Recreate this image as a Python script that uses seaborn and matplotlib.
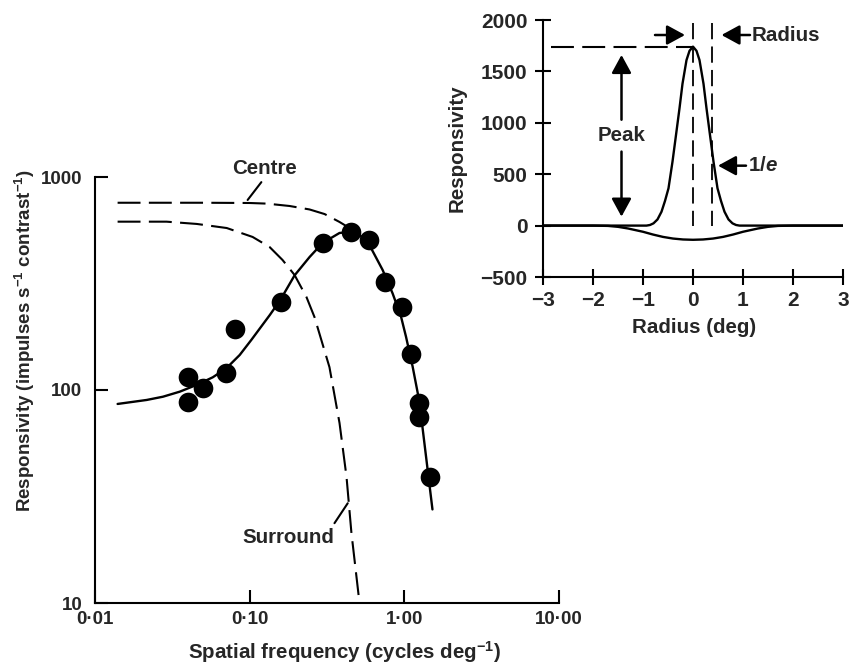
import matplotlib
matplotlib.use("Agg")
import matplotlib.pyplot as plt
import matplotlib.ticker as mticker
import pandas as pd
import seaborn as sns

# ---------------- data ----------------
# measured points: spatial frequency (c/deg) vs responsivity
freq_pts = [0.04, 0.04, 0.05, 0.07, 0.08, 0.16, 0.30, 0.45, 0.59, 0.75, 0.96, 1.11, 1.25, 1.25, 1.47]
resp_pts = [115, 88, 102, 120, 193, 259, 490, 552, 506, 321, 245, 148, 87, 75, 39]

# fitted (DoG) curve
fit_f = [0.014, 0.0216, 0.0275, 0.0353, 0.0453, 0.0577, 0.0707, 0.0862, 0.1026, 0.135, 0.158,
         0.195, 0.244, 0.296, 0.381, 0.442, 0.52, 0.594, 0.724, 0.84, 0.952, 1.025, 1.131,
         1.22, 1.30, 1.38, 1.52]
fit_r = [86, 89.8, 93, 98.2, 105.6, 114.7, 126.5, 146, 172, 225, 265,
         345, 421, 490, 546, 552, 530, 480, 366, 284, 221, 178, 129,
         97, 70, 49, 27.5]

# centre component
cen_f = [0.014, 0.05, 0.10, 0.129, 0.181, 0.244, 0.305, 0.381, 0.442, 0.48]
cen_r = [757, 757, 755, 750, 731, 704, 670, 615, 576, 548]

# surround component
sur_f = [0.014, 0.029, 0.0455, 0.0711, 0.1045, 0.1346, 0.163, 0.195, 0.233, 0.2625,
         0.328, 0.381, 0.423, 0.455, 0.513]
sur_r = [617, 617, 602, 576, 523, 469, 408, 347, 273, 220, 128, 70, 39, 21.3, 10]

x_ticks = [0.01, 0.1, 1, 10]
x_ticklabels = ["0·01", "0·10", "1·00", "10·00"]
y_ticks = [10, 100, 1000]
y_ticklabels = ["10", "100", "1000"]

# inset: radial profiles
rad_c = [-3, -1.0, -0.93, -0.86, -0.79, -0.71, -0.63, -0.56, -0.49, -0.41, -0.34, -0.27, -0.21, -0.13, -0.07, 0,
         0.07, 0.13, 0.21, 0.27, 0.34, 0.41, 0.49, 0.56, 0.63, 0.71, 0.79, 0.86, 0.93, 1.0, 3]
prof_c = [0, 0, 0, 6, 22, 60, 135, 240, 363, 622, 881, 1141, 1380, 1610, 1700, 1741,
          1700, 1610, 1380, 1141, 881, 622, 363, 240, 135, 60, 22, 6, 0, 0, 0]
rad_s = [-3, -2.0, -1.7, -1.5, -1.3, -1.0, -0.8, -0.6, -0.4, -0.2, 0,
         0.2, 0.4, 0.6, 0.8, 1.0, 1.3, 1.5, 1.7, 2.0, 3]
prof_s = [0, 0, -3, -12, -28, -60, -87, -110, -126, -135, -138,
          -135, -126, -110, -87, -60, -28, -12, -3, 0, 0]
peak_value = 1741
radius_1e = 0.374

in_xticks = [-3, -2, -1, 0, 1, 2, 3]
in_yticks = [-500, 0, 500, 1000, 1500, 2000]

# ---------------- style ----------------
sns.set_style("white")
plt.rcParams["font.family"] = ["Liberation Sans", "DejaVu Sans"]
plt.rcParams["font.weight"] = "bold"
plt.rcParams["axes.labelweight"] = "bold"
plt.rcParams["mathtext.fontset"] = "custom"
plt.rcParams["mathtext.rm"] = "Liberation Sans:bold"
plt.rcParams["mathtext.bf"] = "Liberation Sans:bold"
plt.rcParams["mathtext.it"] = "Liberation Sans:bold:italic"
plt.rcParams["mathtext.default"] = "rm"
LW = 1.5
FS_TICK = 13.5
FS_TXT = 14.8

fig = plt.figure(figsize=(8.49, 6.64), dpi=100)

# ---------------- main axes ----------------
ax = fig.add_axes([95 / 849, 1 - 603 / 664, 464 / 849, 426 / 664])
ax.set_xscale("log")
ax.set_yscale("log")

df_fit = pd.DataFrame({"f": fit_f, "r": fit_r})
df_cen = pd.DataFrame({"f": cen_f, "r": cen_r})
df_sur = pd.DataFrame({"f": sur_f, "r": sur_r})
df_pts = pd.DataFrame({"f": freq_pts, "r": resp_pts})

sns.lineplot(data=df_cen, x="f", y="r", ax=ax, color="black", lw=LW, dashes=(11, 4),
             estimator=None, sort=False)
sns.lineplot(data=df_sur, x="f", y="r", ax=ax, color="black", lw=LW, dashes=(11, 4),
             estimator=None, sort=False)
sns.lineplot(data=df_fit, x="f", y="r", ax=ax, color="black", lw=LW + 0.2,
             estimator=None, sort=False)
sns.scatterplot(data=df_pts, x="f", y="r", ax=ax, color="black", s=200,
                edgecolor="black", linewidth=0, zorder=4)

ax.set_xlim(0.01, 10)
ax.set_ylim(10, 1000)
ax.xaxis.set_major_locator(mticker.FixedLocator(x_ticks))
ax.xaxis.set_major_formatter(mticker.FixedFormatter(x_ticklabels))
ax.yaxis.set_major_locator(mticker.FixedLocator(y_ticks))
ax.yaxis.set_major_formatter(mticker.FixedFormatter(y_ticklabels))
ax.xaxis.set_minor_locator(mticker.NullLocator())
ax.yaxis.set_minor_locator(mticker.NullLocator())
for s in ["top", "right"]:
    ax.spines[s].set_visible(False)
for s in ["left", "bottom"]:
    ax.spines[s].set_linewidth(LW)
    ax.spines[s].set_color("black")
ax.tick_params(axis="both", which="major", direction="in", length=9.5, width=LW,
               color="black", labelsize=FS_TICK, pad=6, bottom=True, left=True)
ax.tick_params(axis="y", pad=9)

ax.set_xlabel("Spatial frequency (cycles deg$^{-1}$)", fontsize=FS_TXT, fontweight="bold")
ax.set_ylabel("Responsivity (impulses s$^{-1}$ contrast$^{-1}$)", fontsize=13.5,
              fontweight="bold")
ax.xaxis.set_label_coords(0.537, -0.085)
ax.yaxis.set_label_coords(-0.125, 0.615)

ax.text(0.125, 1102, "Centre", ha="center", va="center", fontsize=FS_TXT, fontweight="bold")
ax.plot([0.097, 0.119], [780, 946], color="black", lw=LW, clip_on=False)
ax.text(0.179, 20.2, "Surround", ha="center", va="center", fontsize=FS_TXT, fontweight="bold")
ax.plot([0.3535, 0.4305], [23.7, 29.4], color="black", lw=LW)

# ---------------- inset ----------------
ai = fig.add_axes([543 / 849, 1 - 277 / 664, 300 / 849, 257 / 664])
df_c = pd.DataFrame({"x": rad_c, "y": prof_c})
df_s = pd.DataFrame({"x": rad_s, "y": prof_s})
sns.lineplot(data=df_c, x="x", y="y", ax=ai, color="black", lw=LW + 0.2,
             estimator=None, sort=False)
sns.lineplot(data=df_s, x="x", y="y", ax=ai, color="black", lw=LW + 0.2,
             estimator=None, sort=False)

ai.plot([-2.85, 0], [peak_value, peak_value], color="black", lw=LW, dashes=(11, 4))
ai.plot([0, 0], [1970, 0], color="black", lw=LW - 0.2, dashes=(9, 4))
ai.plot([radius_1e, radius_1e], [1970, 0], color="black", lw=LW - 0.2, dashes=(9, 4))

ai.set_xlim(-3, 3)
ai.set_ylim(-500, 2000)
ai.set_xticks(in_xticks)
ai.set_yticks(in_yticks)
ai.set_xticklabels([("\u2212" + str(abs(v))) if v < 0 else str(v) for v in in_xticks])
ai.set_yticklabels([("\u2212" + str(abs(v))) if v < 0 else str(v) for v in in_yticks])
for s in ["top", "right"]:
    ai.spines[s].set_visible(False)
for s in ["left", "bottom"]:
    ai.spines[s].set_linewidth(LW)
    ai.spines[s].set_color("black")
ai.tick_params(axis="both", which="major", direction="inout", length=12, width=LW,
               color="black", labelsize=15, pad=4, bottom=True, left=True)
ai.tick_params(axis="y", pad=5)
ai.set_xlabel("Radius (deg)", fontsize=FS_TXT, fontweight="bold")
ai.set_ylabel("Responsivity", fontsize=FS_TXT, fontweight="bold")
ai.xaxis.set_label_coords(0.503, -0.16)
ai.yaxis.set_label_coords(-0.253, 0.5)

arrow = dict(arrowstyle="-|>,head_length=0.55,head_width=0.3", color="black",
             lw=LW + 0.3, mutation_scale=20, shrinkA=0, shrinkB=0)
ai.annotate("", xy=(-0.16, 1854), xytext=(-0.76, 1854), arrowprops=arrow)
ai.annotate("", xy=(0.57, 1854), xytext=(1.14, 1854), arrowprops=arrow)
ai.text(1.18, 1854, "Radius", ha="left", va="center", fontsize=FS_TXT, fontweight="bold")
ai.text(-1.43, 881, "Peak", ha="center", va="center", fontsize=FS_TXT, fontweight="bold")
ai.annotate("", xy=(-1.43, 1660), xytext=(-1.43, 1030), arrowprops=arrow)
ai.annotate("", xy=(-1.43, 87), xytext=(-1.43, 720), arrowprops=arrow)
ai.annotate("", xy=(0.50, 583), xytext=(1.06, 583), arrowprops=arrow)
ai.text(1.10, 583, "1/$\\mathit{e}$", ha="left", va="center", fontsize=FS_TXT,
        fontweight="bold")

fig.savefig("out.png", dpi=100)
